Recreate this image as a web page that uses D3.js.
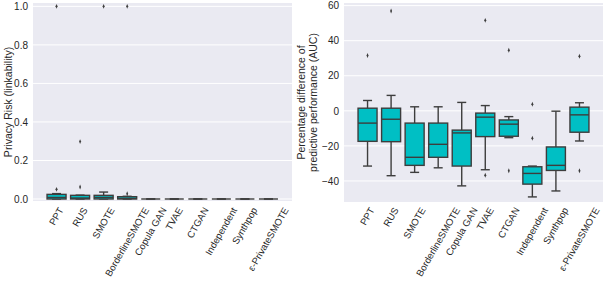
<!DOCTYPE html>
<html><head><meta charset="utf-8">
<script src="https://cdn.jsdelivr.net/npm/d3@7"></script>
<style>body{margin:0;background:#fff}svg{display:block}text{font-family:"Liberation Sans",Arial,sans-serif;fill:#262626}</style>
</head><body><svg id="c" width="606" height="284"></svg>
<script>
const categories = ["PPT","RUS","SMOTE","BorderlineSMOTE","Copula GAN","TVAE","CTGAN","Independent","Synthpop","ε-PrivateSMOTE"];

// Left panel: privacy risk (linkability)
const privWhiskLo = [0,0,0,0,0,0,0,0,0,0];
const privQ1      = [0,0,0,0,0,0,0,0,0,0];
const privMedian  = [0.008,0.005,0.008,0.003,0,0,0,0,0,0];
const privQ3      = [0.024,0.019,0.019,0.012,0,0,0,0,0,0];
const privWhiskHi = [0.028,0.02,0.036,0.014,0,0,0,0,0,0];
const privOut     = [[0.05,1.0],[0.062,0.298],[1.0],[0.027,1.0],[],[],[],[],[],[]];
const privTicks   = [0,0.2,0.4,0.6,0.8,1.0];

// Right panel: percentage difference of predictive performance (AUC)
const aucWhiskLo = [-31.5,-37,-35.1,-32.5,-42.8,-33.6,-15.3,-49.1,-45.7,-17.2];
const aucQ1      = [-17.4,-17.6,-31.1,-26.5,-31.5,-14.7,-14.5,-41.8,-34,-12.2];
const aucMedian  = [-7.0,-4.8,-26.5,-19.1,-12.6,-3.6,-7.6,-35.7,-31.1,-2.3];
const aucQ3      = [1.5,1.5,-7,-7,-11,-1.3,-5.2,-31.9,-20.6,2.1];
const aucWhiskHi = [5.9,8.8,2.3,2.3,4.8,3.0,-3.3,-31.5,-0.2,4.6];
const aucOut     = [[31.6],[56.9],[],[],[],[51.6,-36.7],[34.6,-34.2],[3.8,-15.6],[],[31.1,-34.2]];
const aucTicks   = [-40,-20,0,20,40,60];

const svg = d3.select("#c");
const FILL = "#00bfc4", EDGE = "#3d3d3d";
const XF = 9.6;

function panel(cfg){
  const g = svg.append("g");
  const x = d3.scaleLinear().domain([-1,10]).range([cfg.x0,cfg.x1]);
  const y = d3.scaleLinear().domain(cfg.ydom).range([cfg.yb,cfg.yt]);
  g.append("rect").attr("x",cfg.x0).attr("y",cfg.yt).attr("width",cfg.x1-cfg.x0).attr("height",cfg.yb-cfg.yt).attr("fill","#eaeaf2");
  g.selectAll("line.grid").data(cfg.ticks).join("line")
    .attr("x1",cfg.x0).attr("x2",cfg.x1).attr("y1",d=>y(d)).attr("y2",d=>y(d))
    .attr("stroke","#fff").attr("stroke-width",1);
  const ax = d3.axisLeft(y).tickValues(cfg.ticks).tickSize(0).tickPadding(5).tickFormat(cfg.fmt);
  const ag = g.append("g").attr("transform",`translate(${cfg.x0},0)`).call(ax);
  ag.select(".domain").remove();
  ag.selectAll("text").attr("font-size",10).attr("fill","#262626").style("font-family","Liberation Sans, Arial, sans-serif");
  const xa = d3.axisBottom(x).tickValues(d3.range(categories.length)).tickSize(0).tickFormat(i=>categories[i]);
  const xg = g.append("g").attr("transform",`translate(0,${cfg.yb})`).call(xa);
  xg.select(".domain").remove();
  // rotated labels centred on the tick (matplotlib rotation=60, ha=center)
  xg.selectAll(".tick").attr("transform",null);
  xg.selectAll("text").attr("font-size",XF).attr("fill","#262626").style("font-family","Liberation Sans, Arial, sans-serif")
    .attr("text-anchor","middle").attr("dy",0).attr("y",0).attr("x",0)
    .each(function(i){
      const L = this.getComputedTextLength();
      const H = 1.15*XF, c = 0.33*XF;
      const cX = x(i), cY = 205.5 + 0.433*L + 0.25*H;
      const ax0 = cX + 0.866*c, ay0 = cY + 0.5*c;
      d3.select(this).attr("transform",`translate(${ax0},${ay0-cfg.yb}) rotate(-60)`);
    });
  const bw = 19, cw = 9;
  categories.forEach((c,i)=>{
    const cx = x(i);
    const bg = g.append("g");
    bg.append("line").attr("x1",cx).attr("x2",cx).attr("y1",y(cfg.q3[i])).attr("y2",y(cfg.wh[i])).attr("stroke",EDGE).attr("stroke-width",1.4);
    bg.append("line").attr("x1",cx).attr("x2",cx).attr("y1",y(cfg.q1[i])).attr("y2",y(cfg.wl[i])).attr("stroke",EDGE).attr("stroke-width",1.4);
    bg.append("line").attr("x1",cx-cw/2).attr("x2",cx+cw/2).attr("y1",y(cfg.wh[i])).attr("y2",y(cfg.wh[i])).attr("stroke",EDGE).attr("stroke-width",1.4);
    bg.append("line").attr("x1",cx-cw/2).attr("x2",cx+cw/2).attr("y1",y(cfg.wl[i])).attr("y2",y(cfg.wl[i])).attr("stroke",EDGE).attr("stroke-width",1.4);
    bg.append("rect").attr("x",cx-bw/2).attr("width",bw)
      .attr("y",y(cfg.q3[i])).attr("height",Math.max(0,y(cfg.q1[i])-y(cfg.q3[i])))
      .attr("fill",FILL).attr("stroke",EDGE).attr("stroke-width",1.4);
    bg.append("line").attr("x1",cx-bw/2).attr("x2",cx+bw/2).attr("y1",y(cfg.med[i])).attr("y2",y(cfg.med[i])).attr("stroke",EDGE).attr("stroke-width",1.4);
    bg.selectAll("path.o").data(cfg.out[i]).join("path")
      .attr("d",d3.symbol(d3.symbolDiamond,7))
      .attr("transform",d=>`translate(${cx},${y(d)}) scale(0.7,1)`)
      .attr("fill","#3d3d3d");
  });
  const t = g.append("text").attr("font-size",10.5).attr("text-anchor","middle")
    .attr("transform",`translate(${cfg.tx},${(cfg.yt+cfg.yb)/2}) rotate(-90)`);
  cfg.title.forEach((l,k)=>t.append("tspan").attr("x",0).attr("dy",k===0?0:"1.15em").text(l));
}

panel({x0:33,x1:292,yt:3,yb:201,ydom:[-0.0104,1.0175],ticks:privTicks,fmt:d3.format(".1f"),
  q1:privQ1,q3:privQ3,med:privMedian,wl:privWhiskLo,wh:privWhiskHi,out:privOut,
  title:["Privacy Risk (linkability)"],tx:12});
panel({x0:344,x1:603,yt:3,yb:202,ydom:[-52,61.5],ticks:aucTicks,fmt:d=>d3.format("d")(d).replace("-","\u2212"),
  q1:aucQ1,q3:aucQ3,med:aucMedian,wl:aucWhiskLo,wh:aucWhiskHi,out:aucOut,
  title:["Percentage difference of","predictive performance (AUC)"],tx:305});
</script></body></html>
